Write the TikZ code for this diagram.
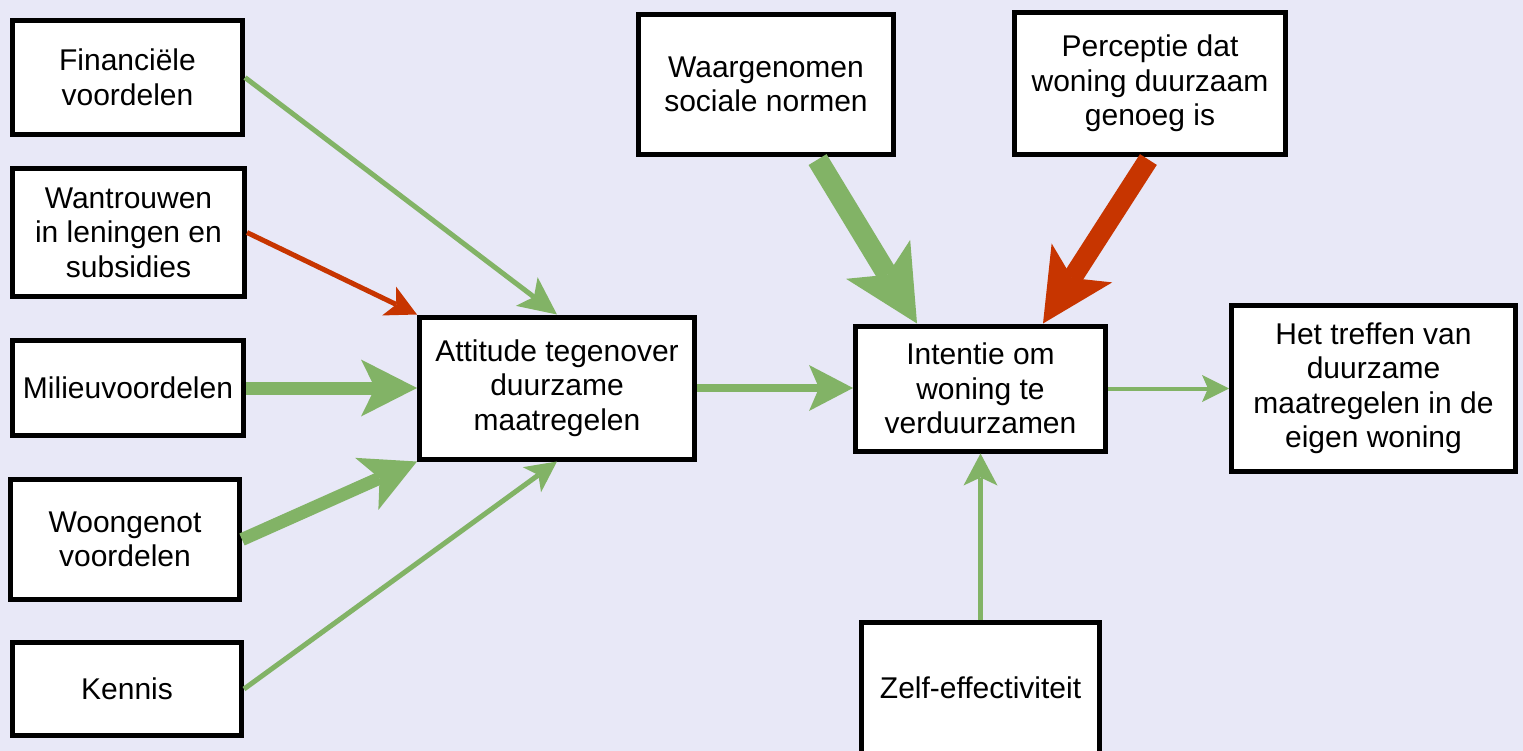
\documentclass[tikz,border=0pt]{standalone}
\usepackage{fontspec}
\setmainfont{Liberation Sans}
\usetikzlibrary{arrows.meta,calc}
\definecolor{bg}{HTML}{E8E8F7}
\definecolor{grn}{HTML}{82B366}
\definecolor{rd}{HTML}{C73500}
\begin{document}
\begin{tikzpicture}[x=1pt,y=-1pt,
  box/.style={draw=black, line width=5pt, fill=white, align=center, inner sep=0pt,
    font=\fontsize{30}{34.5}\selectfont},
  gline/.style={draw=grn, line cap=butt},
  rline/.style={draw=rd, line cap=butt},
  tip/.style n args={3}{-{Stealth[length=#1pt,width=#2pt,inset=#3pt,line width=0pt]}}
]
\useasboundingbox (0,0) rectangle (1523,751);
\fill[bg] (0,0) rectangle (1523,751);
\clip (0,0) rectangle (1523,751);

% left column
\node[box, minimum width=230pt, minimum height=114pt] (fin) at (127.5,77.5) {Financiële\\voordelen};
\node[box, minimum width=232pt, minimum height=128pt] (wan) at (128.5,232.5) {Wantrouwen\\in leningen en\\subsidies};
\node[box, minimum width=231pt, minimum height=95pt] (mil) at (128,388) {Milieuvoordelen};
\node[box, minimum width=229pt, minimum height=120pt] (woo) at (125,539.5) {Woongenot\\voordelen};
\node[box, minimum width=229pt, minimum height=93pt] (ken) at (127,689) {Kennis};

% middle / right
\node[box, minimum width=275pt, minimum height=142pt] (att) at (557,388) {Attitude tegenover\\duurzame\\maatregelen};
\node[box, minimum width=250pt, minimum height=125pt] (int) at (980.5,388.5) {Intentie om\\woning te\\verduurzamen};
\node[box, minimum width=284pt, minimum height=166pt] (tre) at (1373.5,388.5) {Het treffen van\\duurzame\\maatregelen in de\\eigen woning};
\node[box, minimum width=255pt, minimum height=140pt] (waa) at (766,84.5) {Waargenomen\\sociale normen};
\node[box, minimum width=271pt, minimum height=142pt] (per) at (1150,83.5) {Perceptie dat\\woning duurzaam\\genoeg is};
\node[box, minimum width=238pt, minimum height=131pt] (zel) at (980.5,688) {Zelf-effectiviteit};

% connectors into attitude
\draw[gline, line width=5pt, tip={38}{36}{9}] (fin.east) -- (att.north);
\draw[rline, line width=5pt, tip={31}{32}{8}] (wan.east) -- (att.north west);
\draw[gline, line width=13pt, tip={56}{57}{14}] (mil.east) -- (att.west);
\draw[gline, line width=13pt, tip={55}{57}{14}] (woo.east) -- (att.south west);
\draw[gline, line width=5pt, tip={31}{31}{8}] (ken.east) -- (att.south);

% connectors into intention
\draw[gline, line width=8pt, tip={44}{46}{10}] (att.east) -- (att.east -| int.west);
\draw[gline, line width=21pt, tip={75}{75}{18}, shorten <=3pt] ($(waa.south west)+(180,0)$) -- ($(int.north west)+(64,0)$);
\draw[rline, line width=20pt, tip={72}{72}{18}, shorten <=3pt] (per.south) -- ($(int.north west)+(190,0)$);
\draw[gline, line width=5pt, tip={32}{34}{8}] (zel.north) -- (int.south);

% to behaviour
\draw[gline, line width=4pt, tip={27}{27}{6}] (int.east) -- (tre.west);
\end{tikzpicture}
\end{document}
